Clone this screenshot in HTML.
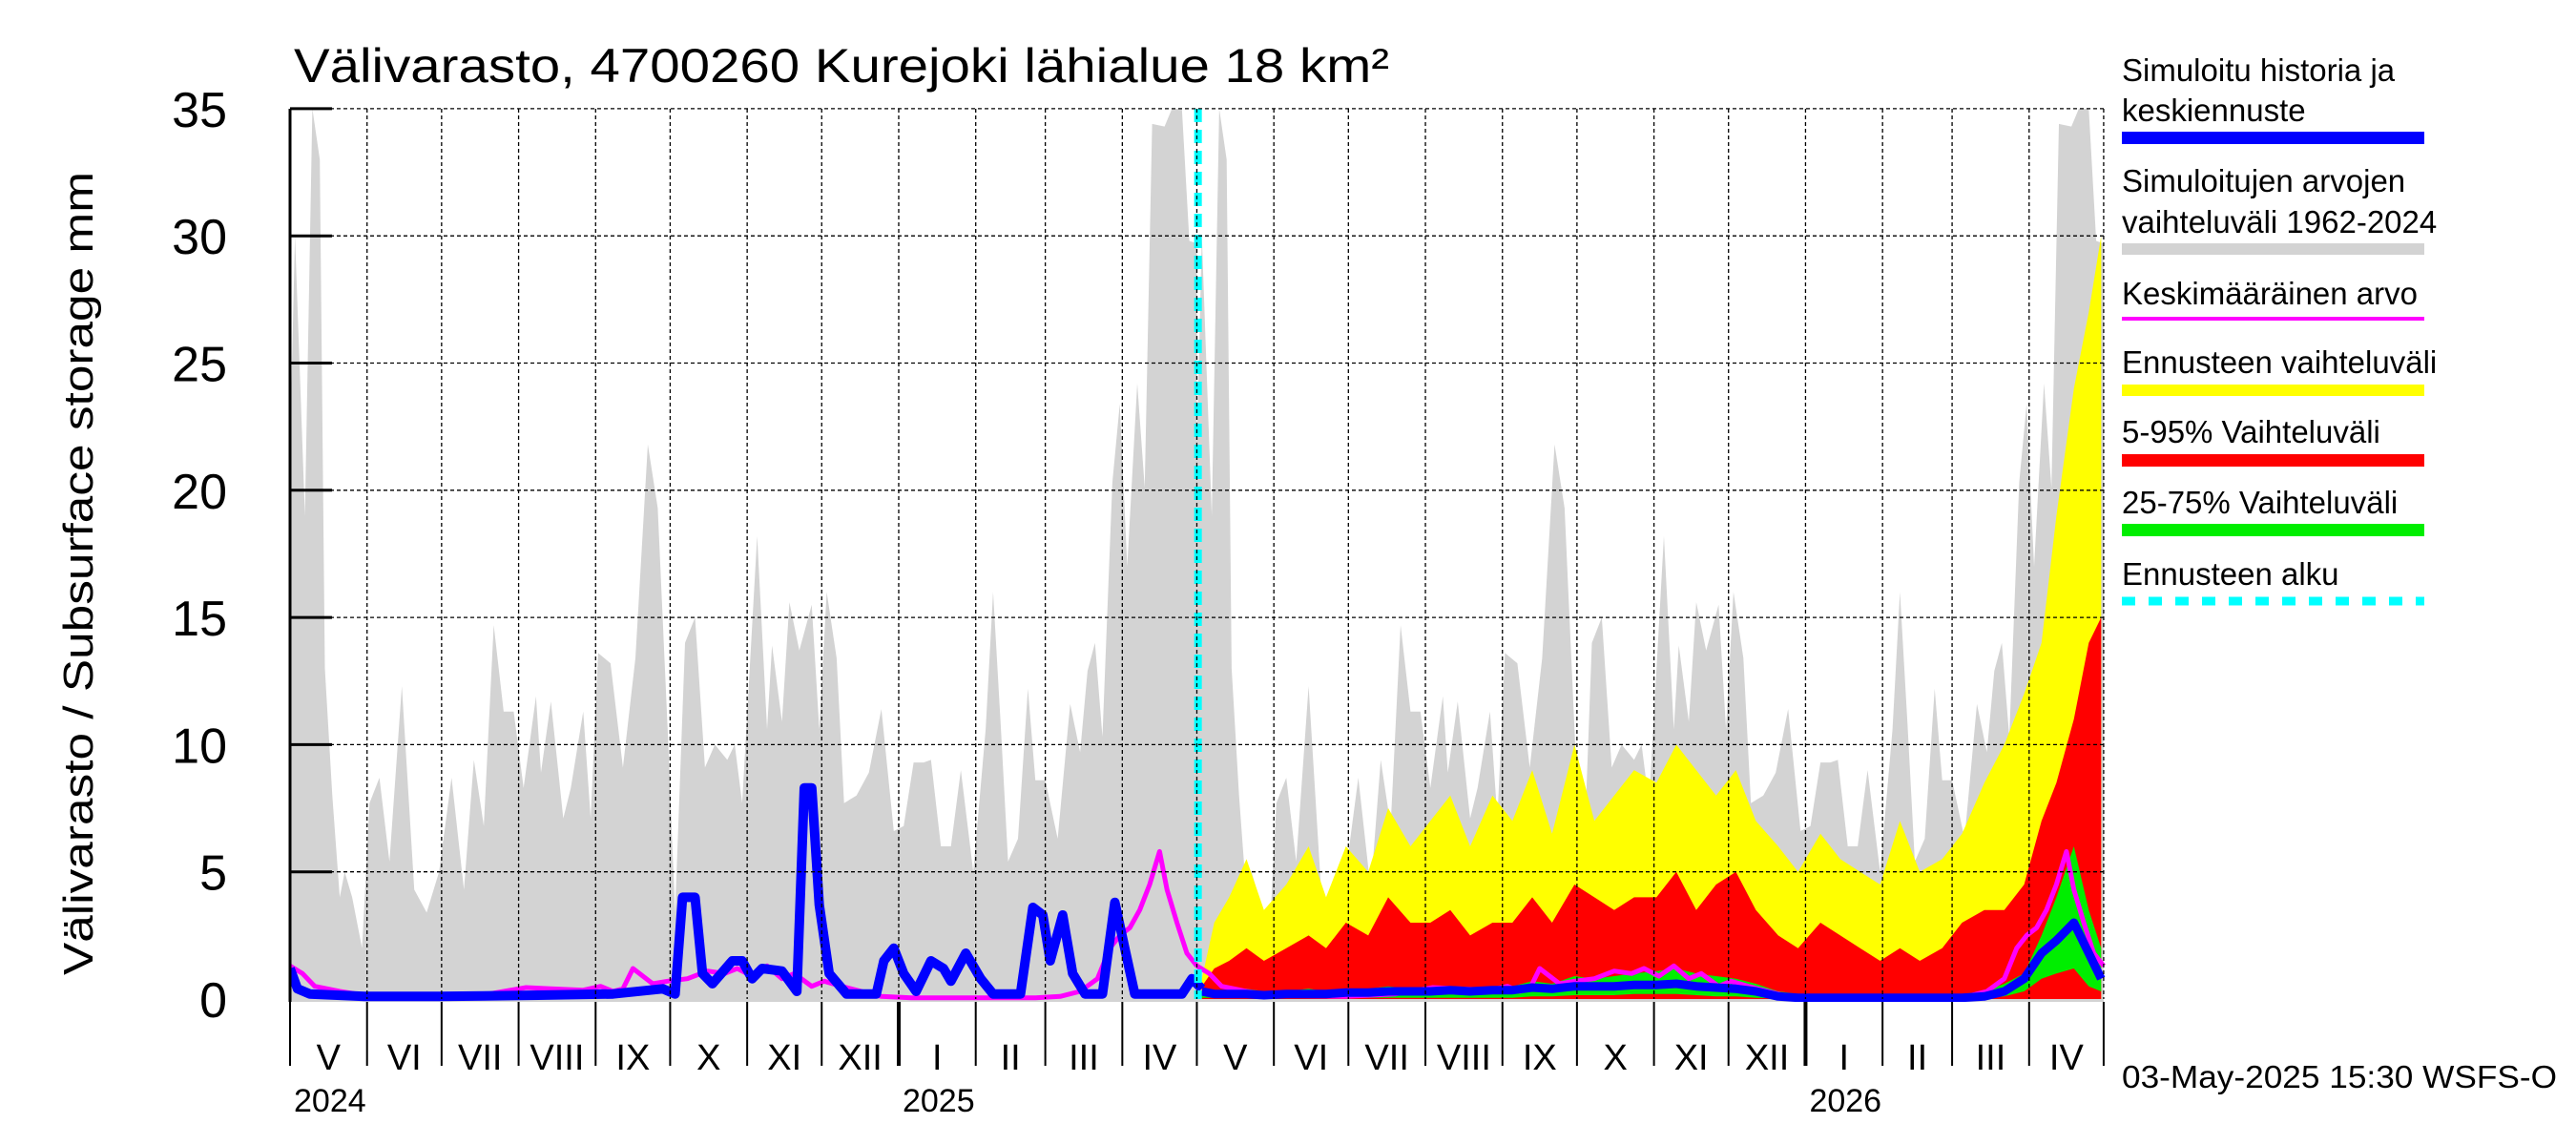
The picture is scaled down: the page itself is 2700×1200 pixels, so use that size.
<!DOCTYPE html>
<html><head><meta charset="utf-8">
<style>
html,body{margin:0;padding:0;background:#fff;}
svg{display:block;font-family:"Liberation Sans",Arial,sans-serif;}
</style></head>
<body>
<svg id="chart" width="2700" height="1200" viewBox="0 0 2700 1200" xmlns="http://www.w3.org/2000/svg">
  <defs><clipPath id="plotclip"><rect x="304" y="114" width="1903" height="936"/></clipPath></defs>
  <text x="308" y="86" font-size="50" textLength="1148" lengthAdjust="spacingAndGlyphs">Välivarasto, 4700260 Kurejoki lähialue 18 km²</text>
  <text transform="translate(97,601) rotate(-90)" text-anchor="middle" font-size="44" textLength="842" lengthAdjust="spacingAndGlyphs">Välivarasto / Subsurface storage  mm</text>
  <g id="plot" clip-path="url(#plotclip)"></g>
  <g id="grid"></g>
  <g id="axes"></g>
  <g id="legend">
    <text x="2224" y="85" font-size="33">Simuloitu historia ja</text>
    <text x="2224" y="127" font-size="33">keskiennuste</text>
    <rect x="2224" y="138" width="317" height="13" fill="#0000ff"/>
    <text x="2224" y="201" font-size="33">Simuloitujen arvojen</text>
    <text x="2224" y="244" font-size="33">vaihteluväli 1962-2024</text>
    <rect x="2224" y="255" width="317" height="12" fill="#d3d3d3"/>
    <text x="2224" y="319" font-size="33">Keskimääräinen arvo</text>
    <rect x="2224" y="332" width="317" height="4" fill="#ff00ff"/>
    <text x="2224" y="391" font-size="33">Ennusteen vaihteluväli</text>
    <rect x="2224" y="403" width="317" height="12" fill="#ffff00"/>
    <text x="2224" y="464" font-size="33">5-95% Vaihteluväli</text>
    <rect x="2224" y="476" width="317" height="13" fill="#ff0000"/>
    <text x="2224" y="538" font-size="33">25-75% Vaihteluväli</text>
    <rect x="2224" y="549" width="317" height="13" fill="#00ee00"/>
    <text x="2224" y="613" font-size="33">Ennusteen alku</text>
    <line x1="2224" y1="630" x2="2541" y2="630" stroke="#00ffff" stroke-width="9" stroke-dasharray="14,14"/>
  </g>
  <text x="2224" y="1140" font-size="33" textLength="456" lengthAdjust="spacingAndGlyphs">03-May-2025 15:30 WSFS-O</text>
</svg>
<script>
// ---- data ----
const yTicks = [0,5,10,15,20,25,30,35];
const monthLabels = ["V","VI","VII","VIII","IX","X","XI","XII","I","II","III","IV","V","VI","VII","VIII","IX","X","XI","XII","I","II","III","IV"];
const monthStartDays = [0,31,61,92,123,153,184,214,245,276,304,335,365,396,426,457,488,518,549,579,610,641,669,700,730];
const yearLabels = ["2024","2025","2026"];
const yearDays = [0,245,610];
const forecastStartDay = 367;
// climatological max (grey band), by day of year, repeated each year
const climDays = [0,2,6,9,12,14,17,20,22,25,29,32,36,40,45,50,55,60,65,70,74,78,82,86,90,94,99,101,105,110,113,118,121,124,129,134,139,144,148,152,155,159,163,167,171,176,179,182,188,192,194,198,201,205,210,213,216,220,223,228,233,238,243,247,251,255,258,262,266,270,275,280,283,286,289,293,297,300,304,309,314,318,321,324,327,331,334,337,341,344,347,352,355,359,362,365];
const climMax = [21.8,30,19,35,33,13,8,4,5,4,2,7.7,8.7,5.4,12.3,4.3,3.4,5,8.7,4.3,9.4,6.8,14.7,11.3,11.3,8.3,11.9,8.9,11.7,7.1,8.3,11.3,7.1,13.6,13.2,9.1,13.4,21.8,19.3,10.6,3.4,14,15,9.1,10,9.4,10,7.7,18.2,10.6,13.9,10.9,15.6,13.7,15.5,10.6,16,13.4,7.7,8,8.9,11.4,6.6,6.8,9.3,9.3,9.4,6,6,9,5,10.6,16,10.9,5.4,6.3,12.2,8.6,8.6,6.3,11.6,9.7,12.9,14,10.3,20.3,23.4,17,24.2,20.1,34.4,34.3,35,35,29.8,29.7];
// long-term mean (magenta), by day of year
const meanDays = [0,5,10,20,30,60,80,95,105,118,125,130,134,138,142,146,152,160,168,175,180,186,192,198,203,210,215,222,230,238,250,300,310,318,325,330,334,338,342,346,350,353,357,361,365];
const meanVals = [1.3,1.0,0.5,0.3,0.15,0.1,0.2,0.45,0.4,0.35,0.5,0.3,0.4,1.2,0.9,0.6,0.7,0.8,1.1,1.0,1.2,0.9,1.3,0.8,1.0,0.5,0.7,0.5,0.3,0.1,0.05,0.05,0.1,0.3,0.8,2.0,2.5,2.8,3.5,4.5,5.8,4.3,3.0,1.8,1.3];
// simulated history (blue)
const histDays = [0,3,8,30,60,100,130,150,155,158,163,166,170,178,182,186,190,198,204,207,210,213,217,224,236,239,243,247,252,258,263,266,272,278,283,294,299,303,306,311,315,320,327,332,336,340,359,363,367];
const histVals = [1.2,0.4,0.2,0.1,0.1,0.15,0.2,0.4,0.2,4,4,1,0.6,1.5,1.5,0.8,1.2,1.1,0.3,8.3,8.3,3.7,1,0.2,0.2,1.5,2,1,0.3,1.5,1.2,0.7,1.8,0.8,0.2,0.2,3.6,3.3,1.5,3.3,1,0.2,0.2,3.8,2,0.2,0.2,0.8,0.4];
// forecast bands
const fcDays = [367,372,378,385,392,401,410,417,425,434,442,451,459,467,475,484,492,500,508,517,525,533,541,550,558,566,574,582,590,599,607,616,624,632,640,648,656,665,673,682,690,698,705,711,718,724,729];
const fcMax = [0.8,3,4,5.5,3.5,4.5,6,4,6,5,7.5,6,7,8,6,8,7,9,6.5,10,7,8,9,8.5,10,9,8,9,7,6,5,6.5,5.5,5,4.5,7,5,5.5,6.5,8.5,10,12,14,19,24,27,30];
const fcP95 = [0.5,1.2,1.5,2,1.5,2,2.5,2,3,2.5,4,3,3,3.5,2.5,3,3,4,3,4.5,4,3.5,4,4,5,3.5,4.5,5,3.5,2.5,2,3,2.5,2,1.5,2,1.5,2,3,3.5,3.5,4.5,7,8.5,11,14,15];
const fcP75 = [0.3,0.3,0.3,0.4,0.3,0.3,0.4,0.3,0.4,0.4,0.5,0.4,0.5,0.5,0.4,0.5,0.5,0.7,0.6,0.9,0.8,0.9,1.0,1.1,1.2,1.0,0.9,0.8,0.6,0.3,0.2,0.2,0.15,0.1,0.1,0.1,0.1,0.1,0.2,0.3,0.6,1.0,2.5,4,6,3.5,2];
const fcP25 = [0.05,0.05,0.05,0.05,0.05,0.05,0.05,0.05,0.05,0.05,0.05,0.05,0.05,0.05,0.05,0.05,0.05,0.1,0.1,0.15,0.15,0.15,0.2,0.2,0.2,0.15,0.1,0.1,0.05,0.02,0.02,0.02,0.02,0.02,0.02,0.02,0.02,0.02,0.02,0.05,0.1,0.3,0.8,1,1.2,0.5,0.3];
const fcMedian = [0.3,0.2,0.2,0.2,0.15,0.2,0.2,0.2,0.25,0.25,0.3,0.3,0.3,0.35,0.3,0.35,0.35,0.45,0.4,0.5,0.5,0.5,0.55,0.55,0.6,0.5,0.45,0.4,0.3,0.1,0.05,0.05,0.05,0.05,0.05,0.05,0.05,0.05,0.05,0.1,0.3,0.8,1.8,2.3,3,1.8,0.8];

// ---- axes functions ----
const X0 = 304, PX_PER_DAY = 2.604, Y0 = 1047, PX_PER_MM = 26.66, YTOP = 114, XR = 2207;
function xs(d){ return X0 + d*PX_PER_DAY; }
function ys(v){ return Y0 - v*PX_PER_MM; }
const NS = "http://www.w3.org/2000/svg";
function mk(tag, attrs, parent){ const e=document.createElementNS(NS,tag); for(const k in attrs) e.setAttribute(k,attrs[k]); parent.appendChild(e); return e; }
const plot = document.getElementById('plot'), grid = document.getElementById('grid'), axes = document.getElementById('axes');

function lineD(days, vals, off){ return days.map((d,i)=>(i?'L':'M')+xs(d+off).toFixed(1)+','+ys(vals[i]).toFixed(1)).join(''); }
function bandD(days, hi, lo){
  let p = days.map((d,i)=>(i?'L':'M')+xs(d).toFixed(1)+','+ys(hi[i]).toFixed(1)).join('');
  for(let i=days.length-1;i>=0;i--) p += 'L'+xs(days[i]).toFixed(1)+','+ys(lo?lo[i]:0).toFixed(1);
  return p+'Z';
}

// grey climatological band, two years
for (const off of [0,365]) {
  let p = climDays.map((d,i)=>(i?'L':'M')+xs(d+off).toFixed(1)+','+ys(climMax[i]).toFixed(1)).join('');
  p += 'L'+xs(climDays[climDays.length-1]+off).toFixed(1)+','+(Y0+3)+'L'+xs(climDays[0]+off).toFixed(1)+','+(Y0+3)+'Z';
  const g = mk('path',{d:p,fill:'#d3d3d3'},plot);
  
  
}
const yb = mk('path',{d:bandD(fcDays,fcMax,null),fill:'#ffff00'},plot);


const rb = mk('path',{d:bandD(fcDays,fcP95,null),fill:'#ff0000'},plot);


const gb = mk('path',{d:bandD(fcDays,fcP75,fcP25),fill:'#00ee00'},plot);



// grid
yTicks.forEach(v=>{
  if(v>0){
    const l = mk('line',{x1:X0,x2:XR,y1:ys(v),y2:ys(v),stroke:'#000','stroke-width':1.3,'stroke-dasharray':'4,3'},grid);
    
    
    const t = mk('line',{x1:X0,x2:X0+44,y1:ys(v),y2:ys(v),stroke:'#000','stroke-width':3},axes);
    
    
  }
  const tx = mk('text',{x:238,y:ys(v)+19,'text-anchor':'end','font-size':52},axes);
  tx.textContent = v;
  
  
});
monthStartDays.forEach((d,i)=>{
  if(i>0){
    const l = mk('line',{x1:xs(d),x2:xs(d),y1:YTOP,y2:Y0,stroke:'#000','stroke-width':1.3,'stroke-dasharray':'4,3'},grid);
    
    
  }
  const isYear = yearDays.indexOf(d)>0;
  const t = mk('line',{x1:xs(d),x2:xs(d),y1:Y0+3,y2:1117,stroke:'#000','stroke-width':isYear?4:2},axes);
  
  
  if(i<monthLabels.length){
    const tx = mk('text',{x:(xs(d)+xs(monthStartDays[i+1]))/2,y:1121,'text-anchor':'middle','font-size':38},axes);
    tx.textContent = monthLabels[i];
    
    
  }
});
yearLabels.forEach((y,i)=>{
  const tx = mk('text',{x:xs(yearDays[i])+4,y:1165,'font-size':34},axes);
  tx.textContent = y;
  
  
});
const la = mk('line',{x1:X0,x2:X0,y1:YTOP,y2:Y0+3,stroke:'#000','stroke-width':3},axes);



// mean line (two years)
for (const off of [0,365]) {
  const m = mk('path',{d:lineD(meanDays,meanVals,off),fill:'none',stroke:'#ff00ff','stroke-width':5,'stroke-linejoin':'round'},plot);
  
  
}
// blue history and forecast median
const h = mk('path',{d:lineD(histDays,histVals,0),fill:'none',stroke:'#0000ff','stroke-width':10,'stroke-linejoin':'round'},plot);


const fm = mk('path',{d:lineD(fcDays,fcMedian,0),fill:'none',stroke:'#0000ff','stroke-width':9,'stroke-linejoin':'round'},plot);


// forecast start
const fs = mk('line',{x1:xs(forecastStartDay)-4,x2:xs(forecastStartDay)-4,y1:YTOP,y2:Y0,stroke:'#00ffff','stroke-width':8,'stroke-dasharray':'14,8'},plot);


</script>
</body></html>
